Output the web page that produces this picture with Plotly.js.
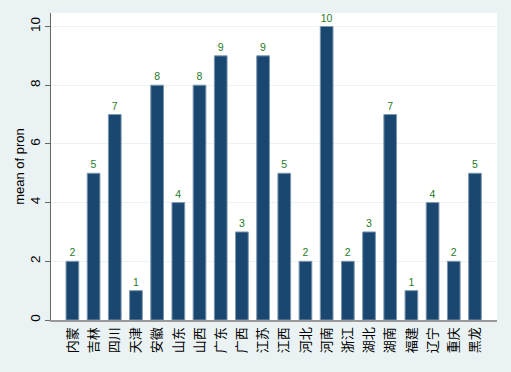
<!DOCTYPE html>
<html>
<head>
<meta charset="utf-8">
<script src="https://cdn.plot.ly/plotly-3.0.1.min.js"></script>
<style>html,body{margin:0;padding:0;background:#eaf2f3;}#chart{width:511px;height:372px;}</style>
</head>
<body>
<div id="chart"></div>
<script>
const provinces = ['内蒙','吉林','四川','天津','安徽','山东','山西','广东','广西','江苏','江西','河北','河南','浙江','湖北','湖南','福建','辽宁','重庆','黑龙'];
const meanPron = [2,5,7,1,8,4,8,9,3,9,5,2,10,2,3,7,1,4,2,5];
const yTicks = [0,2,4,6,8,10];

const trace = {
  type: 'bar',
  x: provinces,
  y: meanPron,
  text: meanPron.map(String),
  textposition: 'outside',
  cliponaxis: false,
  textfont: {family: 'Liberation Sans, Arial, sans-serif', size: 10.5, color: '#1f7a1f'},
  marker: {color: '#1a476f', line: {color: '#7d97b0', width: 1}},
  hoverinfo: 'none'
};

const layout = {
  width: 511, height: 372,
  margin: {l: 51, r: 14, t: 13, b: 52},
  paper_bgcolor: '#eaf2f3',
  plot_bgcolor: '#ffffff',
  bargap: 0.4,
  showlegend: false,
  font: {family: 'Liberation Sans, Arial, sans-serif', color: '#000'},
  xaxis: {
    type: 'category',
    range: [-1.01, 20.04],
    tickangle: -90,
    tickfont: {family: 'Noto Sans CJK SC, sans-serif', size: 13, color: '#000'},
    showline: true, linecolor: '#9a9a9a', linewidth: 2,
    ticks: '', showgrid: false, zeroline: false
  },
  yaxis: {
    range: [0, 10.46],
    tickvals: yTicks,
    ticktext: yTicks.map(String),
    tickangle: -90,
    tickfont: {size: 13.5, color: '#000'},
    ticks: 'outside', ticklen: 5, tickcolor: '#666', tickwidth: 1,
    showline: true, linecolor: '#666', linewidth: 1,
    showgrid: true, gridcolor: '#eaf2f3', gridwidth: 1,
    zeroline: false,
    title: {text: 'mean of pron', font: {size: 13, color: '#000'}, standoff: 0}
  }
};

Plotly.newPlot('chart', [trace], layout, {displayModeBar: false, staticPlot: true});
</script>
</body>
</html>
